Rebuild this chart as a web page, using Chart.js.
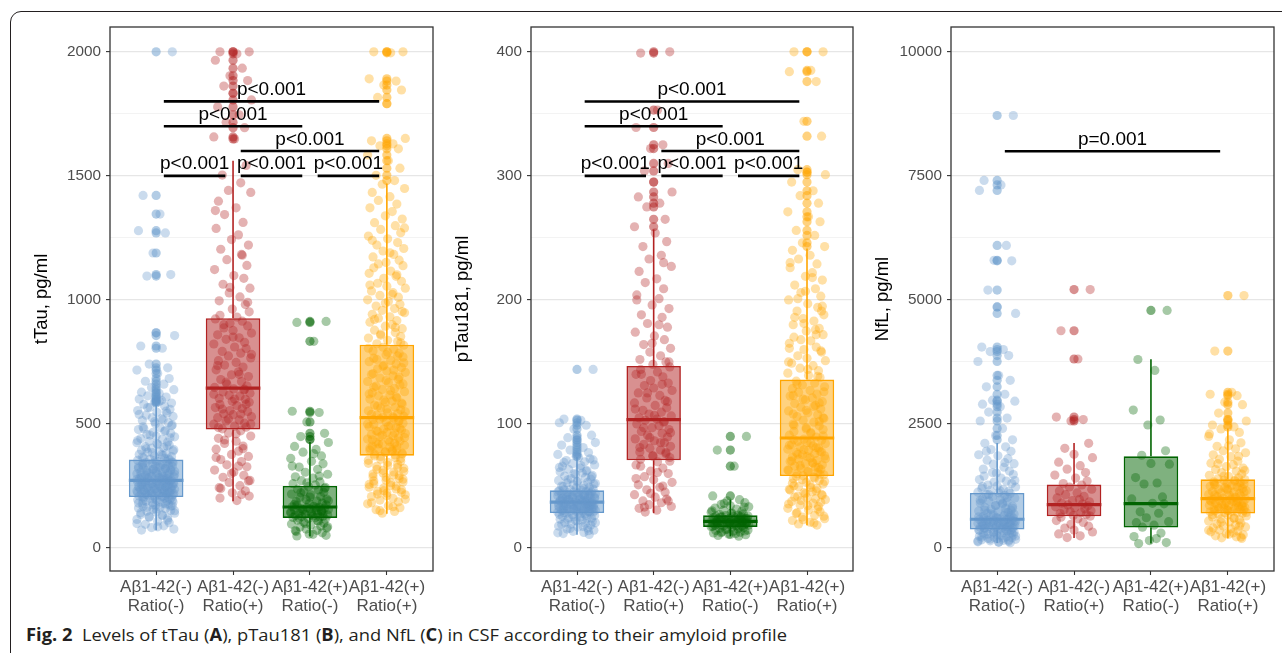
<!DOCTYPE html>
<html>
<head>
<meta charset="utf-8">
<script src="https://cdn.jsdelivr.net/npm/chart.js@4.4.1/dist/chart.umd.min.js"></script>
<style>
  body { margin: 0; background: #fff; width: 1282px; height: 653px; overflow: hidden; position: relative; }
  .frame { position: absolute; left: 10px; top: 11px; width: 1320px; height: 700px; border: 1.3px solid #231f20; border-radius: 11px; }
  .panel { position: absolute; top: 0; height: 620px; }
  #caption { position: absolute; left: 26px; top: 625px; font-family: 'Open Sans', 'Noto Sans', sans-serif; font-size: 17px; line-height: 20px;
             white-space: nowrap; color: #231f20; transform-origin: left top; }
</style>
</head>
<body>
<div class="frame"></div>
<div class="panel" style="left:0;width:445px"><canvas id="chartA"></canvas></div>
<div class="panel" style="left:445px;width:420px"><canvas id="chartB"></canvas></div>
<div class="panel" style="left:865px;width:417px"><canvas id="chartC"></canvas></div>
<div id="caption"><b>Fig. 2</b>&nbsp; Levels of tTau (<b>A</b>), pTau181 (<b>B</b>), and NfL (<b>C</b>) in CSF according to their amyloid profile</div>

<script>
// groups, in plot order
const CATEGORIES = [['Aβ1-42(-)', 'Ratio(-)'], ['Aβ1-42(-)', 'Ratio(+)'], ['Aβ1-42(+)', 'Ratio(-)'], ['Aβ1-42(+)', 'Ratio(+)']];
const GROUP_COLORS = ['#6699CC', '#B22222', '#006400', '#FFA500'];

// ---- A: tTau, pg/ml ----
const TTAU_TICKS = [0, 500, 1000, 1500, 2000];
const TTAU_Q1 = [205, 477, 121, 372];
const TTAU_MEDIAN = [272, 644, 165, 525];
const TTAU_Q3 = [356, 926, 250, 819];
const TTAU_WHISKER_LOW = [71, 188, 47, 138];
const TTAU_WHISKER_HIGH = [581, 1561, 427, 1469];
const TTAU_NEG_NEG = [2000, 1421, 1346, 1279, 1270, 1189, 1102, 1096, 867, 856, 814, 805, 741, 726, 717, 703, 683, 672, 660, 647, 638, 628, 623, 613, 608, 600, 595, 589, 584,
  579, 572, 567, 559, 554, 547, 543, 535, 530, 525, 518, 514, 505, 501, 496, 488, 485, 477, 473, 466, 462, 458, 451, 448, 441, 438, 430, 427, 424, 417, 415, 408, 404, 402, 396, 394, 388, 386, 381, 377, 376, 370, 368, 363, 361, 357,
  355, 353, 349, 348, 344, 343, 340, 337, 336, 332, 330, 329, 325, 324, 321, 319, 317, 315, 313, 310, 309, 306, 305, 302, 300, 299, 296, 295, 293, 290, 289, 287, 285, 284, 281, 280, 278, 277, 275, 274, 273,
  271, 270, 268, 266, 265, 264, 262, 261, 259, 257, 256, 255, 253, 251, 250, 249, 247, 245, 244, 242, 241, 239, 237, 236, 234, 232, 231, 229, 227, 225, 224, 222, 220, 219, 217, 215, 213, 211, 209, 207, 206,
  204, 203, 200, 198, 196, 194, 192, 189, 188, 185, 183, 180, 178, 175, 172, 170, 167, 164, 161, 158, 155, 151, 148, 144, 140, 135, 131, 126, 121, 115, 108, 102, 95, 89, 82, 76, 72,
  590, 566, 552, 538, 521, 509, 493, 480, 470, 455, 444, 433, 421, 411, 399, 391, 384, 373, 366, 359, 352, 346, 341, 334, 327, 322, 316, 311, 307, 303, 297, 292, 288, 283, 279, 276, 272, 269, 267, 263,
  260, 258, 254, 252, 248, 246, 243, 240, 238, 235, 233, 230, 228, 226, 223, 221, 218, 216, 214, 210, 208, 205, 201, 197, 193, 190, 186, 181, 177, 173, 168, 163, 157, 150, 142, 133, 124, 112, 98, 85];
const TTAU_NEG_POS = [2000, 2000, 1992, 1966, 1934, 1903, 1884, 1862, 1833, 1806, 1778, 1746, 1716, 1694, 1657, 1649,
  1542, 1503, 1472, 1441, 1433, 1398, 1371, 1344, 1312, 1288, 1262, 1243, 1221, 1204, 1183, 1162, 1139, 1122, 1098, 1087, 1063, 1047, 1028, 1012, 996, 981, 963, 952, 938, 931,
  923, 914, 906, 895, 887, 877, 866, 859, 847, 841, 829, 822, 810, 804, 792, 785, 774, 766, 755, 748, 737, 729, 718, 710, 698, 691, 679, 671, 660, 653, 647,
  641, 637, 629, 624, 616, 612, 603, 599, 591, 587, 578, 574, 566, 562, 554, 550, 541, 537, 529, 525, 516, 512, 503, 499, 491, 487, 480,
  472, 463, 451, 442, 430, 421, 411, 398, 390, 377, 369, 356, 348, 335, 327, 314, 306, 293, 285, 272, 264, 251, 243, 230, 222, 209, 201, 191,
  1360, 1180, 1050, 990, 900, 850, 780, 735, 700, 668, 640, 620, 600, 580, 560, 540, 520, 500, 485, 460, 435, 400, 365, 330, 300, 270, 240, 215];
const TTAU_POS_NEG = [913, 909, 833, 551, 546, 508, 462, 449, 437,
  425, 409, 397, 386, 371, 361, 349, 339, 326, 317, 305, 297, 287, 281, 271, 266, 259, 254,
  248, 244, 237, 234, 227, 224, 217, 214, 207, 204, 197, 195, 189, 187, 181, 179, 174, 172, 168, 166,
  164, 163, 161, 159, 157, 155, 153, 152, 149, 147, 145, 143, 141, 139, 137, 135, 133, 131, 129, 127, 125, 123, 122,
  119, 116, 112, 108, 104, 100, 96, 92, 88, 84, 80, 76, 71, 66, 61, 56, 51, 48,
  380, 330, 290, 262, 240, 222, 205, 190, 176, 162, 155, 148, 141, 134, 128, 120, 110, 98, 85, 70, 55];
const TTAU_POS_POS = [2000, 2000, 1996, 1891, 1882, 1866, 1846, 1816, 1791, 1651, 1641, 1629, 1621, 1609, 1584, 1561, 1531, 1502, 1481,
  1466, 1449, 1433, 1416, 1401, 1386, 1371, 1356, 1339, 1326, 1311, 1299, 1284, 1271, 1257, 1246, 1231, 1221, 1207, 1197, 1183, 1173, 1160, 1151, 1138, 1129, 1116, 1107, 1095, 1087, 1075, 1067, 1055, 1047, 1036, 1029, 1018, 1011, 1000, 993, 982, 975, 965, 958, 948, 942, 932, 926, 916, 910, 900, 894, 884, 878, 868, 862, 852, 846, 837, 832, 823,
  817, 809, 801, 794, 785, 779, 770, 765, 756, 751, 741, 736, 727, 722, 713, 708, 699, 694, 685, 680, 671, 666, 657, 652, 643, 639, 630, 626, 617, 613, 604, 600, 592, 588, 580, 576, 568, 564, 557, 553, 545, 542, 535, 531, 527,
  523, 518, 513, 508, 503, 499, 493, 489, 484, 479, 475, 470, 466, 461, 457, 452, 448, 444, 439, 435, 431, 427, 422, 418, 414, 410, 406, 402, 398, 394, 390, 386, 382, 378, 375,
  369, 361, 353, 345, 337, 329, 321, 313, 306, 298, 291, 284, 277, 270, 263, 256, 249, 242, 235, 228, 221, 214, 207, 200, 193, 186, 178, 170, 162, 154, 147, 140,
  1290, 1240, 1190, 1145, 1101, 1060, 1022, 987, 953, 921, 889, 857, 827, 805, 789, 774, 760, 746, 732, 717, 703, 689, 675, 661, 648, 634, 621, 609, 596, 584,
  572, 560, 549, 538, 528, 520, 510, 500, 491, 481, 472, 463, 454, 445, 436, 428, 419, 411, 403, 395, 387, 379, 371, 364, 357, 349, 341, 333, 325, 317,
  309, 302, 294, 287, 280, 273, 266, 259, 252, 245, 238, 231, 224, 217, 210, 196, 182, 166, 150];
const TTAU_SIG_PAIRS = [[1, 4], [1, 3], [2, 4], [1, 2], [2, 3], [3, 4]];
const TTAU_SIG_Y = [1800, 1700, 1600, 1500, 1500, 1500];
const TTAU_SIG_LABELS = ['p<0.001', 'p<0.001', 'p<0.001', 'p<0.001', 'p<0.001', 'p<0.001'];

// ---- B: pTau181, pg/ml ----
const PTAU_TICKS = [0, 100, 200, 300, 400];
const PTAU_Q1 = [28.2, 70.7, 17, 58];
const PTAU_MEDIAN = [37, 103.5, 21.5, 88.7];
const PTAU_Q3 = [46.5, 146.8, 26.4, 135.8];
const PTAU_WHISKER_LOW = [10.8, 28.2, 9.4, 18.3];
const PTAU_WHISKER_HIGH = [73.4, 256.8, 39, 241.5];
const PTAU_NEG_NEG = [144, 104, 103, 101, 99, 96, 91, 89, 87, 85, 83, 81, 79, 77, 75.5,
  73, 72, 70.5, 69.5, 68, 67, 66, 64.5, 63.5, 62.5, 61.5, 60.5, 59.5, 58.5, 58, 57, 56, 55.5, 54.5, 54, 53, 52.5, 51.5, 51, 50.5, 49.5, 49, 48.5, 47.5, 47, 46.8,
  46.2, 45.8, 45.4, 45, 44.6, 44.2, 43.8, 43.5, 43.1, 42.8, 42.4, 42.1, 41.7, 41.4, 41, 40.7, 40.4, 40.1, 39.8, 39.5, 39.2, 38.9, 38.6, 38.3, 38, 37.7, 37.4, 37.1,
  36.8, 36.5, 36.2, 35.9, 35.6, 35.3, 35, 34.7, 34.4, 34.1, 33.8, 33.5, 33.2, 32.9, 32.6, 32.3, 32, 31.7, 31.4, 31.1, 30.8, 30.5, 30.2, 29.9, 29.6, 29.3, 29, 28.7, 28.4,
  28, 27.4, 26.8, 26.2, 25.6, 25, 24.4, 23.8, 23.2, 22.6, 22, 21.3, 20.6, 19.9, 19.2, 18.5, 17.7, 16.9, 16.1, 15.3, 14.4, 13.5, 12.6, 11.7, 11,
  74, 71, 69, 66.5, 65, 62, 60, 57.5, 55, 53.5, 52, 50, 48, 47.2, 46, 45.2, 44.4, 43.6, 43, 42.2, 41.6, 40.9, 40.3, 39.7, 39, 38.4, 37.9, 37.3, 36.9, 36.4,
  35.8, 35.4, 34.9, 34.3, 33.9, 33.4, 32.8, 32.4, 31.9, 31.3, 30.9, 30.4, 29.8, 29.4, 28.9, 28.5, 27.9, 27.1, 26.4, 25.3, 24.1, 23, 21.8, 20.3, 18.9, 17.3, 15.8, 14, 12.3];
const PTAU_NEG_POS = [400, 399, 353, 339, 325, 322, 310, 304, 295, 287, 283, 278, 275, 265, 259,
  254, 247, 243, 236, 233, 227, 223, 217, 214, 209, 204, 201, 196, 193, 188, 186, 181, 178, 174, 171, 168, 164, 161, 158, 155, 152, 150, 148,
  146, 144, 142, 140, 138, 135, 133, 131, 129, 127, 125, 123, 121, 119, 117, 115, 113, 111, 109.5, 108, 106.5, 105, 104,
  103, 101.5, 100, 98.5, 97, 95.5, 94, 92.5, 91, 89.5, 88, 86.5, 85, 83.5, 82, 80.5, 79, 77.5, 76, 74.5, 73, 71.5,
  69.5, 67, 64.5, 62, 60, 57.5, 55, 53, 51, 49, 47, 45, 43, 41, 39.5, 38, 36.5, 35, 33.5, 32, 30.5, 29,
  230, 200, 180, 165, 150, 140, 132, 125, 118, 112, 107, 102, 97, 93, 89, 85, 81, 77, 74, 70, 66, 61, 56, 50, 44, 38, 33];
const PTAU_POS_NEG = [90, 79, 66, 42,
  39, 38, 36.6, 35.2, 34.1, 33.3, 32.2, 31.4, 30.5, 29.7, 28.9, 28.2, 27.6, 27, 26.6,
  26.2, 25.9, 25.7, 25.4, 25.1, 24.9, 24.6, 24.3, 24, 23.8, 23.5, 23.3, 23, 22.8, 22.5, 22.3, 22, 21.8, 21.6,
  21.4, 21.2, 21, 20.8, 20.6, 20.4, 20.2, 20, 19.8, 19.6, 19.4, 19.2, 19, 18.8, 18.5, 18.3, 18.1, 17.8, 17.5, 17.2,
  16.8, 16.3, 15.9, 15.4, 15, 14.5, 14.1, 13.6, 13.1, 12.7, 12.2, 11.7, 11.2, 10.7, 10.2, 9.6,
  36, 33, 30, 28, 26, 25, 24, 23.2, 22.4, 21.7, 21, 20.3, 19.7, 19.1, 18.4, 17.6, 16.5, 15.2, 13.8, 12.4, 11];
const PTAU_POS_POS = [400, 400, 385, 384, 376, 344, 332, 305, 303, 301, 295, 288, 284, 278, 271, 267, 263, 256, 252, 246, 243,
  240, 236, 233, 229, 226, 222, 219, 216, 212, 209, 206, 203, 200, 197, 194, 191, 188, 185, 183, 180, 177, 175, 172, 170, 167, 165, 162, 160, 158, 155, 153, 151, 149, 147, 145, 143, 141, 139, 137.5,
  134.5, 133, 131.5, 130, 128.5, 127, 125.5, 124, 122.5, 121, 119.5, 118, 116.5, 115, 113.5, 112, 110.5, 109, 107.5, 106, 104.5, 103, 101.5, 100, 98.5, 97, 95.5, 94, 92.5, 91, 89.5,
  87.8, 86.9, 86, 85.1, 84.2, 83.3, 82.4, 81.5, 80.6, 79.7, 78.8, 77.9, 77, 76.1, 75.2, 74.3, 73.4, 72.5, 71.6, 70.7, 69.8, 68.9, 68, 67.1, 66.2, 65.3, 64.4, 63.5, 62.6, 61.7, 60.8, 59.9, 59, 58.2,
  57.2, 55.8, 54.4, 53, 51.6, 50.2, 48.8, 47.4, 46, 44.6, 43.2, 41.8, 40.4, 39, 37.6, 36.2, 34.8, 33.4, 32, 30.6, 29.2, 27.8, 26.4, 25, 23.6, 22.2, 20.8, 19.4, 18.5,
  230, 218, 207, 195, 186, 176, 168, 159, 150, 144, 138.5, 132, 126, 120, 114, 108, 102, 96, 90.5, 87.2, 84.7, 82.9, 81, 79.2, 77.4, 75.6, 73.8, 72, 70.2, 68.4,
  66.6, 64.8, 63, 61.2, 59.4, 57.8, 56.5, 55.1, 53.7, 52.3, 50.9, 49.5, 48.1, 46.7, 45.3, 43.9, 42.5, 41.1, 39.7, 38.3, 36.9, 35.5, 34.1, 31.3, 28.5, 25.7, 22.9, 20.1,
  123, 117, 111, 105, 99, 93, 161, 172, 181, 191, 201];
const PTAU_SIG_PAIRS = [[1, 4], [1, 3], [2, 4], [1, 2], [2, 3], [3, 4]];
const PTAU_SIG_Y = [360, 340, 320, 300, 300, 300];
const PTAU_SIG_LABELS = ['p<0.001', 'p<0.001', 'p<0.001', 'p<0.001', 'p<0.001', 'p<0.001'];

// ---- C: NfL, pg/ml ----
const NFL_TICKS = [0, 2500, 5000, 7500, 10000];
const NFL_Q1 = [371, 639, 411, 694];
const NFL_MEDIAN = [579, 875, 895, 996];
const NFL_Q3 = [1109, 1278, 1849, 1385];
const NFL_WHISKER_LOW = [101, 202, 89, 189];
const NFL_WHISKER_HIGH = [2117, 2117, 3804, 2407];
const NFL_NEG_NEG = [8720, 7410, 7320, 7210, 6100, 5800, 5790, 5200, 4860, 4730, 4050, 4000, 3960, 3880, 3760, 3480, 3380, 3250, 3100, 2980, 2960, 2900, 2850, 2740, 2620, 2560, 2410, 2270, 2180,
  2110, 2040, 1985, 1950, 1880, 1860, 1800, 1770, 1700, 1690, 1630, 1590, 1550, 1510, 1480, 1450, 1410, 1380, 1350, 1330, 1300, 1270, 1250, 1230, 1200, 1180, 1160, 1140, 1125, 1112,
  1100, 1080, 1060, 1040, 1010, 990, 970, 950, 930, 905, 885, 860, 840, 820, 800, 780, 765, 745, 730, 715, 700, 685, 670, 655, 640, 628, 615, 604, 592, 583,
  575, 568, 560, 553, 546, 539, 532, 525, 518, 511, 504, 497, 490, 483, 476, 469, 462, 455, 448, 441, 434, 427, 420, 413, 406, 399, 392, 385, 378, 372,
  365, 355, 345, 335, 325, 315, 305, 295, 285, 275, 265, 255, 245, 235, 225, 215, 205, 195, 185, 175, 165, 155, 145, 135, 125, 115, 106,
  1950, 1720, 1520, 1360, 1240, 1150, 1080, 1020, 960, 900, 850, 800, 760, 720, 690, 660, 630, 600, 580, 560, 540,
  520, 500, 480, 460, 440, 420, 400, 380, 360, 340, 320, 300, 280, 260, 240, 220, 200, 180, 160, 140, 120];
const NFL_NEG_POS = [5210, 4380, 3810, 2640, 2590, 2560,
  2110, 2010, 1890, 1820, 1730, 1660, 1590, 1520, 1470, 1410, 1350, 1300,
  1270, 1230, 1185, 1150, 1110, 1075, 1040, 1010, 980, 955, 930, 905, 885,
  868, 850, 829, 812, 790, 772, 751, 733, 712, 694, 675, 656, 642,
  622, 588, 552, 515, 478, 440, 402, 361, 322, 283, 245, 210];
const NFL_POS_NEG = [4790, 3800, 3580, 2780, 2580, 2480, 1960, 1870, 1705, 1690, 1420, 1310, 1290, 1030, 990, 900, 890, 730, 700, 610, 530, 510, 460, 420, 300, 230, 190, 150, 110, 89];
const NFL_POS_POS = [5090, 3970, 3140, 3100, 3070, 2940, 2890, 2720, 2590, 2560, 2480, 2440,
  2400, 2330, 2250, 2180, 2120, 2050, 2000, 1960, 1920, 1880, 1840, 1790, 1750, 1710, 1680, 1640, 1610, 1580, 1550, 1520, 1490, 1465, 1440, 1415, 1395,
  1380, 1365, 1350, 1335, 1320, 1305, 1290, 1275, 1260, 1245, 1230, 1215, 1200, 1185, 1170, 1155, 1140, 1125, 1110, 1095, 1080, 1065, 1050, 1035, 1020, 1005,
  990, 980, 970, 960, 950, 940, 930, 920, 910, 900, 890, 880, 870, 860, 850, 840, 830, 820, 810, 800, 790, 780, 770, 760, 750, 740, 730, 720, 710, 700,
  685, 665, 645, 625, 605, 585, 565, 545, 525, 505, 485, 465, 445, 425, 405, 385, 365, 345, 325, 305, 285, 265, 245, 225, 205, 192,
  2300, 2060, 1850, 1700, 1560, 1450, 1370, 1310, 1250, 1190, 1130, 1070, 1010, 960, 915, 875, 835, 795, 755, 715, 670, 600, 520, 440, 360, 280, 220];
const NFL_SIG_PAIRS = [[1, 4]];
const NFL_SIG_Y = [8000];
const NFL_SIG_LABELS = ['p=0.001'];

// fixed horizontal jitter for the points (fraction of a category step)
const JITTER = [0.21, -0.17, 0.05, -0.23, 0.12, -0.04, 0.19, -0.12, 0.0, 0.24, -0.2, 0.08, -0.09, 0.15, -0.25, 0.02, 0.17, -0.14, 0.1, -0.06, 0.23, -0.19,
  0.04, -0.11, 0.13, -0.22, 0.07, -0.02, 0.2, -0.16, 0.11, -0.08, 0.18, -0.24, 0.01, 0.14, -0.13, 0.22, -0.05, 0.09, -0.18, 0.16, -0.01];

const BOX_WIDTH = 0.71;
const PT_R = 4.6;
const PT_ALPHA = 0.35;
const FONT = "'Liberation Sans', Arial, sans-serif";

function rgba(hex, a) {
  const n = parseInt(hex.slice(1), 16);
  return `rgba(${n >> 16},${(n >> 8) & 255},${n & 255},${a})`;
}

// frame around the panel + p-value labels
const panelDecor = {
  id: 'panelDecor',
  afterDatasetsDraw(chart, args, opts) {
    const { ctx, chartArea: a, scales: { x, y } } = chart;
    ctx.save();
    ctx.font = `19px ${FONT}`;
    ctx.fillStyle = '#000';
    ctx.textAlign = 'center';
    ctx.textBaseline = 'alphabetic';
    opts.pairs.forEach(([p, q], k) => {
      ctx.fillText(opts.labels[k], x.getPixelForValue((p + q) / 2), y.getPixelForValue(opts.ys[k]) - 6.5);
    });
    ctx.strokeStyle = '#333';
    ctx.lineWidth = 1.3;
    ctx.strokeRect(a.left, a.top, a.right - a.left, a.bottom - a.top);
    ctx.restore();
  }
};

function buildPanel(id, p) {
  const datasets = [];
  // box bodies (floating bars q1..q3)
  datasets.push({
    type: 'bar', order: 10,
    data: p.q1.map((q, i) => ({ x: i + 1, y: [q, p.q3[i]] })),
    backgroundColor: GROUP_COLORS.map(c => rgba(c, 0.5)),
    borderColor: GROUP_COLORS, borderWidth: 1.6, borderSkipped: false,
    barPercentage: BOX_WIDTH, categoryPercentage: 1
  });
  p.values.forEach((vals, i) => {
    const c = GROUP_COLORS[i], x = i + 1;
    const seg = (pts, w) => datasets.push({ type: 'line', order: 9, data: pts, borderColor: c, borderWidth: w, pointRadius: 0, fill: false });
    seg([{ x, y: p.lo[i] }, { x, y: p.q1[i] }], 1.6);
    seg([{ x, y: p.q3[i] }, { x, y: p.hi[i] }], 1.6);
    seg([{ x: x - BOX_WIDTH / 2, y: p.med[i] }, { x: x + BOX_WIDTH / 2, y: p.med[i] }], 3.2);
    // outliers drawn by the box plot, on the centre line
    datasets.push({
      type: 'scatter', order: 8,
      data: vals.filter(v => v > p.hi[i] || v < p.lo[i]).map(v => ({ x, y: v })),
      backgroundColor: rgba(c, 0.5), borderWidth: 0, pointRadius: PT_R
    });
    // jittered raw points
    datasets.push({
      type: 'scatter', order: 5,
      data: vals.map((v, k) => ({ x: x + JITTER[k % JITTER.length], y: v })),
      backgroundColor: rgba(c, PT_ALPHA), borderWidth: 0, pointRadius: PT_R
    });
  });
  p.sigPairs.forEach(([a, b], k) => datasets.push({
    type: 'line', order: 0,
    data: [{ x: a + 0.1, y: p.sigY[k] }, { x: b - 0.1, y: p.sigY[k] }],
    borderColor: '#000', borderWidth: 2.6, pointRadius: 0
  }));

  const major = v => p.ticks.includes(v);
  new Chart(document.getElementById(id), {
    type: 'bar',
    data: { datasets },
    options: {
      responsive: true, maintainAspectRatio: false, animation: false, events: [],
      layout: { padding: { top: 27, left: p.padLeft, right: p.padRight, bottom: 0 } },
      plugins: {
        legend: { display: false }, tooltip: { enabled: false },
        panelDecor: { pairs: p.sigPairs, ys: p.sigY, labels: p.sigLabels }
      },
      scales: {
        x: {
          type: 'linear', min: 0.4, max: 4.6, offset: false,
          afterBuildTicks: s => { s.ticks = CATEGORIES.map((c, i) => ({ value: i + 1 })); },
          afterFit: s => { s.height = 49; },
          ticks: {
            autoSkip: false, maxRotation: 0, padding: 3, color: '#4d4d4d',
            font: { family: FONT, size: 17, lineHeight: 1.12 },
            callback: v => CATEGORIES[Math.round(v) - 1]
          },
          grid: { drawOnChartArea: false, offset: false, tickColor: '#333', tickLength: 4, tickWidth: 1.1 },
          border: { display: false }
        },
        y: {
          min: p.yMin, max: p.yMax,
          // major breaks from the tick list plus the minor breaks halfway between them
          afterBuildTicks: s => {
            const t = [];
            for (let v = 0; v <= p.yMax; v += p.step) t.push({ value: v });
            s.ticks = t;
          },
          afterFit: s => { s.width = 79; },
          ticks: {
            autoSkip: false, padding: 5, color: '#4d4d4d',
            font: { family: FONT, size: 15.3 },
            callback: v => (major(v) ? v : '')
          },
          grid: {
            color: c => (major(c.tick.value) ? '#e6e6e6' : '#f0f0f0'),
            lineWidth: c => (major(c.tick.value) ? 1.2 : 0.8),
            tickColor: c => (major(c.tick.value) ? '#333' : 'rgba(0,0,0,0)'),
            tickLength: 4, tickWidth: 1.1
          },
          border: { display: false },
          title: { display: true, text: p.title, color: '#000', padding: 0, font: { family: FONT, size: 18.5 } }
        }
      }
    },
    plugins: [panelDecor]
  });
}

buildPanel('chartA', {
  title: 'tTau, pg/ml', yMin: -93, yMax: 2100, step: 250, ticks: TTAU_TICKS, padLeft: 31, padRight: 12,
  values: [TTAU_NEG_NEG, TTAU_NEG_POS, TTAU_POS_NEG, TTAU_POS_POS],
  q1: TTAU_Q1, med: TTAU_MEDIAN, q3: TTAU_Q3, lo: TTAU_WHISKER_LOW, hi: TTAU_WHISKER_HIGH,
  sigPairs: TTAU_SIG_PAIRS, sigY: TTAU_SIG_Y, sigLabels: TTAU_SIG_LABELS
});
buildPanel('chartB', {
  title: 'pTau181, pg/ml', yMin: -18.5, yMax: 420, step: 50, ticks: PTAU_TICKS, padLeft: 7, padRight: 12,
  values: [PTAU_NEG_NEG, PTAU_NEG_POS, PTAU_POS_NEG, PTAU_POS_POS],
  q1: PTAU_Q1, med: PTAU_MEDIAN, q3: PTAU_Q3, lo: PTAU_WHISKER_LOW, hi: PTAU_WHISKER_HIGH,
  sigPairs: PTAU_SIG_PAIRS, sigY: PTAU_SIG_Y, sigLabels: PTAU_SIG_LABELS
});
buildPanel('chartC', {
  title: 'NfL, pg/ml', yMin: -464, yMax: 10504, step: 1250, ticks: NFL_TICKS, padLeft: 7, padRight: 8,
  values: [NFL_NEG_NEG, NFL_NEG_POS, NFL_POS_NEG, NFL_POS_POS],
  q1: NFL_Q1, med: NFL_MEDIAN, q3: NFL_Q3, lo: NFL_WHISKER_LOW, hi: NFL_WHISKER_HIGH,
  sigPairs: NFL_SIG_PAIRS, sigY: NFL_SIG_Y, sigLabels: NFL_SIG_LABELS
});

// squeeze the caption to the width it has in the figure
const cap = document.getElementById('caption');
cap.style.transform = `scaleX(${761 / cap.getBoundingClientRect().width})`;
</script>
</body>
</html>
